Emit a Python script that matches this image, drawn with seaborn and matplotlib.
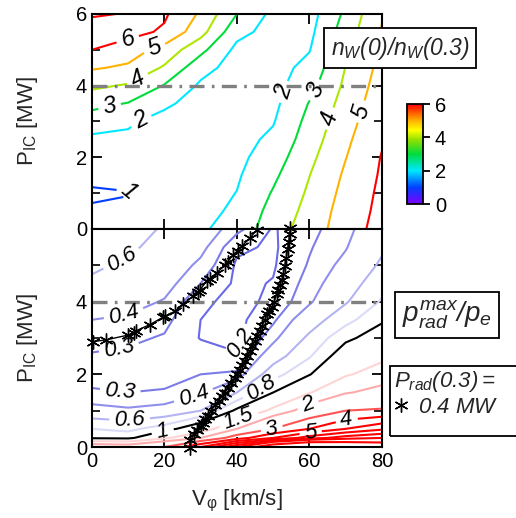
import numpy as np
import pandas as pd
import matplotlib.pyplot as plt
import matplotlib.colors as mcolors
from matplotlib.cm import ScalarMappable
from matplotlib.patches import Rectangle
from matplotlib.ticker import MultipleLocator
import seaborn as sns

# grid of the scan
vphi = [0, 10, 20, 30, 40, 50, 60, 70, 80]
pic_nw = [0, 0.5, 1, 1.5, 2, 2.5, 3, 3.5, 4, 4.5, 5, 5.5, 6]
pic_prad = [0, 0.25, 0.5, 1, 1.5, 2, 2.5, 3, 3.5, 4, 4.5, 5, 5.5, 6]

# n_W(0)/n_W(0.3), one list per V_phi column, bottom to top
nw_cols = [
    [1.3, 1.08, 0.9, 1.2, 1.45, 1.8, 2.5, 3.3, 4.2, 5.1, 6.0, 6.55, 7.1],
    [1.4, 1.15, 0.97, 1.25, 1.5, 1.8, 2.15, 2.95, 3.9, 4.85, 5.47, 6.35, 6.95],
    [1.7, 1.55, 1.45, 1.45, 1.5, 1.55, 1.64, 2.2, 2.94, 3.88, 4.64, 5.85, 6.15],
    [1.9, 1.75, 1.6, 1.5, 1.45, 1.42, 1.45, 1.55, 1.85, 2.35, 3.28, 4.37, 4.85],
    [2.3, 2.15, 2.02, 1.88, 1.75, 1.65, 1.55, 1.5, 1.5, 1.6, 1.75, 2.3, 3.0],
    [3.6, 3.35, 3.08, 2.8, 2.5, 2.2, 1.93, 1.75, 1.65, 1.6, 1.6, 1.65, 1.75],
    [4.4, 4.3, 4.15, 3.98, 3.75, 3.5, 3.3, 3.05, 2.65, 2.3, 1.95, 1.75, 1.6],
    [5.6, 5.45, 5.3, 5.15, 4.97, 4.8, 4.6, 4.4, 4.2, 4.02, 3.8, 3.5, 3.2],
    [6.3, 6.25, 6.2, 6.12, 6.05, 5.9, 5.75, 5.6, 5.45, 5.3, 5.15, 5.05, 4.95],
]
nw_levels = [1, 2, 3, 4, 5, 6, 7]

# p_rad^max / p_e
prad_cols = [
    [2.5, 0.95, 0.8, 0.45, 0.31, 0.27, 0.29, 0.34, 0.40, 0.47, 0.57, 0.63, 0.70, 0.76],
    [2.4, 0.92, 0.75, 0.42, 0.30, 0.26, 0.28, 0.32, 0.38, 0.45, 0.52, 0.57, 0.63, 0.72],
    [3.0, 1.4, 0.9, 0.45, 0.31, 0.26, 0.26, 0.29, 0.33, 0.39, 0.45, 0.5, 0.54, 0.57],
    [5.0, 2.0, 1.2, 0.6, 0.38, 0.3, 0.25, 0.195, 0.2, 0.22, 0.3, 0.37, 0.44, 0.5],
    [8.0, 3.5, 2.0, 1.05, 0.6, 0.32, 0.21, 0.17, 0.17, 0.17, 0.18, 0.185, 0.22, 0.33],
    [12, 5.0, 3.0, 1.6, 1.0, 0.72, 0.5, 0.36, 0.28, 0.22, 0.205, 0.19, 0.185, 0.19],
    [14, 6.5, 4.0, 2.3, 1.47, 0.98, 0.78, 0.64, 0.5, 0.38, 0.34, 0.31, 0.29, 0.27],
    [13, 7.5, 5.0, 3.0, 1.95, 1.45, 1.15, 0.95, 0.73, 0.58, 0.5, 0.44, 0.39, 0.36],
    [12, 8.0, 5.8, 3.1, 2.2, 1.7, 1.4, 1.12, 0.97, 0.82, 0.72, 0.63, 0.57, 0.52],
]
prad_levels = [0.2, 0.3, 0.4, 0.6, 0.8, 1, 1.5, 2, 3, 4, 5, 6, 7, 8, 10]

# P_rad(0.3) = 0.4 MW loci
star1_x = [0.3, 4, 10, 11.5, 12.3, 16, 19.6, 20.3, 23, 25.2, 27.9, 29.3, 29.8, 31.7,
           32.5, 34.4, 36.7, 37.5, 38.9, 40.2, 41.4, 43.6, 45.5]
star1_y = [2.9, 2.95, 3.08, 3.15, 3.2, 3.37, 3.57, 3.6, 3.74, 3.94, 4.15, 4.27, 4.32, 4.57,
           4.63, 4.79, 5.0, 5.1, 5.28, 5.4, 5.53, 5.75, 5.97]
star2_x = [27, 27.2, 28.3, 29, 30, 30.6, 31.3, 32, 33, 34, 35, 35.8, 36.7, 37.5, 38.5, 39.4,
           40.1, 40.8, 41.5, 42.2, 42.9, 43.6, 44.3, 45, 45.6, 46.3, 47, 47.7, 48.3, 49,
           49.7, 50.3, 51, 51.3, 51.8, 52.4, 52.8, 53.2, 53.6, 54, 54.3, 54.6, 54.8]
star2_y = [-0.03, 0.19, 0.35, 0.47, 0.58, 0.66, 0.76, 0.85, 1.0, 1.16, 1.28, 1.4, 1.5, 1.62,
           1.76, 1.9, 2.0, 2.12, 2.25, 2.37, 2.5, 2.64, 2.78, 2.92, 3.05, 3.19, 3.33, 3.5,
           3.66, 3.75, 3.85, 4.0, 4.2, 4.33, 4.45, 4.6, 4.75, 4.98, 5.2, 5.45, 5.65, 5.87, 6.03]

ref_power = 4

sns.set_theme(style='ticks')
plt.rcParams['font.family'] = ['Liberation Sans', 'DejaVu Sans']
plt.rcParams['mathtext.fontset'] = 'custom'
plt.rcParams['mathtext.rm'] = 'Liberation Sans:italic'
plt.rcParams['mathtext.it'] = 'Liberation Sans:italic'
plt.rcParams['mathtext.sf'] = 'Liberation Sans'
plt.rcParams['axes.linewidth'] = 1.5

Xn, Yn = np.meshgrid(vphi, pic_nw)
Xp, Yp = np.meshgrid(vphi, pic_prad)
Z_nw = np.array(nw_cols).T
Z_prad = np.array(prad_cols).T

rainbow = mcolors.LinearSegmentedColormap.from_list(
    'rb', [(0, '#8000ff'), (1/6, '#0040ff'), (2/6, '#00e8ff'), (3/6, '#00dc3c'),
           (0.64, '#8ee000'), (0.74, '#ffff00'), (5/6, '#ffb400'), (1, '#ff0000')])
nw_norm = mcolors.Normalize(0, 6)
nw_colors = [rainbow(nw_norm(min(v, 6))) for v in nw_levels]

bwr = mcolors.LinearSegmentedColormap.from_list('bw', [(0, '#6a6ae6'), (0.5, '#ffffff'), (1, '#ff0000')])
pr_norm = mcolors.TwoSlopeNorm(vmin=0.2, vcenter=1, vmax=4)
prad_colors = ['black' if v == 1 else bwr(pr_norm(min(v, 4))) for v in prad_levels]

fig = plt.figure(figsize=(5.16, 5.18), dpi=100)
ax1 = fig.add_axes([0.178, 0.558, 0.562, 0.415])
ax2 = fig.add_axes([0.178, 0.137, 0.562, 0.421])

fmt = lambda v: f'{v:g}'

# top panel
cs1 = ax1.contour(Xn, Yn, Z_nw, levels=nw_levels, colors=nw_colors, linewidths=1.5)
lab1 = ax1.clabel(cs1, levels=[1, 2, 3, 4, 5, 6], fmt=fmt, fontsize=17, inline_spacing=5,
                  manual=[(10.2, 5.19), (17.4, 5.0), (12.7, 4.16), (5, 3.37), (13.8, 2.96),
                          (10.5, 1.28), (53.8, 3.8), (61.5, 3.88), (65.1, 3.1), (74.5, 3.27)])
for t in lab1:
    t.set_color('black')
    t.set_fontstyle('italic')
ax1.axhline(ref_power, color='0.5', lw=2.4, ls=(0, (4.5, 2.2, 0.8, 2.2)))

# bottom panel
cs2 = ax2.contour(Xp, Yp, Z_prad, levels=prad_levels, colors=prad_colors, linewidths=1.5)
lab2 = ax2.clabel(cs2, levels=[0.2, 0.3, 0.4, 0.6, 0.8, 1, 1.5, 2, 3, 4, 5], fmt=fmt,
                  fontsize=16, inline_spacing=5,
                  manual=[(9.4, 4.93), (9, 3.55), (7.7, 2.6), (7.7, 1.43), (10.5, 0.66),
                          (19.6, 0.41), (38.6, 2.95), (28.4, 1.3), (40.8, 0.66), (47, 1.57),
                          (49.7, 0.47), (60, 1.07), (60.4, 0.36), (70.3, 0.74)])
for t in lab2:
    t.set_color('black')
    t.set_fontstyle('italic')
ax2.axhline(ref_power, color='0.5', lw=2.4, ls=(0, (4.5, 2.2, 0.8, 2.2)))

stars = pd.concat([
    pd.DataFrame({'vphi': star1_x, 'pic': star1_y, 'chain': 'a'}),
    pd.DataFrame({'vphi': star2_x, 'pic': star2_y, 'chain': 'b'}),
])
for name, grp in stars.groupby('chain'):
    sns.lineplot(data=grp, x='vphi', y='pic', sort=False, estimator=None, ax=ax2,
                 color='black', lw=1, marker=(6, 2, 0), markersize=10,
                 markeredgewidth=1, markeredgecolor='black', clip_on=False,
                 label='$0.4\\ MW$' if name == 'a' else None)

for ax in (ax1, ax2):
    ax.set_xlim(0, 80)
    ax.set_ylim(0, 6)
    ax.xaxis.set_major_locator(MultipleLocator(20))
    ax.yaxis.set_major_locator(MultipleLocator(2))
    ax.yaxis.set_minor_locator(MultipleLocator(1))
    ax.tick_params(which='both', direction='in', top=True, right=True, labelsize=14.5,
                   width=1.3, colors='black')
    ax.tick_params(which='major', length=7)
    ax.tick_params(which='minor', length=6, width=1.2)
    ax.set_ylabel('P$_{\\mathsf{IC}}$ [MW]', fontsize=16, labelpad=26)
    for s in ax.spines.values():
        s.set_color('black')

ax1.tick_params(labelbottom=False)
ax1.set_xlabel('')
ax2.set_yticks([0, 2, 4])
ax2.set_xlabel('V$_{\\mathsf{φ}}$ [km/s]', fontsize=16, labelpad=12)

leg = ax2.legend(title='$P_{rad}(0.3)=$', loc='upper left', frameon=False,
                 bbox_to_anchor=(394 / 516, 1 - 369 / 518), bbox_transform=fig.transFigure,
                 fontsize=16, title_fontsize=16, handlelength=0.6, handletextpad=0.5,
                 borderpad=0, borderaxespad=0, labelspacing=0, alignment='left')
leg._legend_box.sep = 2
for h in leg.legend_handles:
    h.set_linestyle('none')
fig.patches.append(Rectangle((390 / 516, 1 - 436 / 518), 140 / 516, 70 / 518,
                             transform=fig.transFigure, fill=False, ec='black', lw=1.3))

fig.text(400 / 516, 1 - 48 / 518, '$n_W(0)/n_W(0.3)$', fontsize=16.5, ha='center', va='center',
         bbox=dict(boxstyle='square,pad=0.3', fc='white', ec='black', lw=1.3))
fig.text(447 / 516, 1 - 315 / 518, '$p_{rad}^{max}/p_e$', fontsize=20, ha='center', va='center',
         bbox=dict(boxstyle='square,pad=0.25', fc='white', ec='black', lw=1.3))

cax = fig.add_axes([0.789, 0.606, 0.031, 0.193])
cb = fig.colorbar(ScalarMappable(norm=nw_norm, cmap=rainbow), cax=cax, ticks=[0, 2, 4, 6])
cb.outline.set_linewidth(1.3)
cb.outline.set_edgecolor('black')
cax.tick_params(labelsize=14.5, length=5, width=1.3, colors='black')

fig.savefig('out.png', dpi=100)
